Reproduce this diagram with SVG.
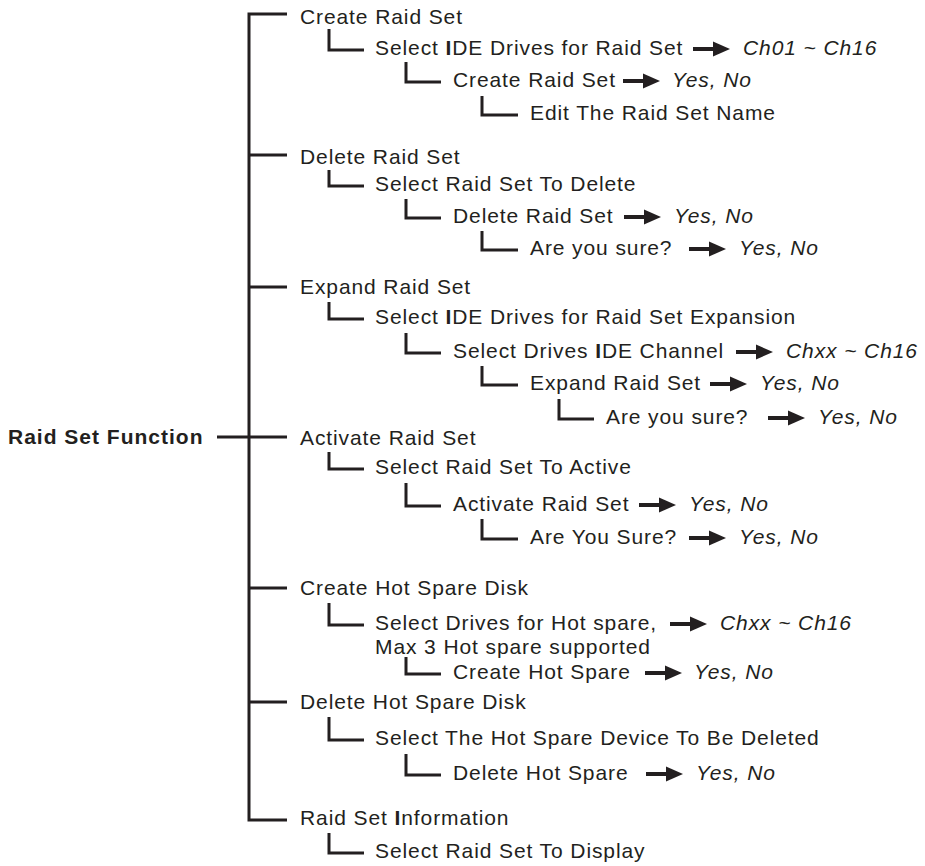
<svg xmlns="http://www.w3.org/2000/svg" width="925" height="866" viewBox="0 0 925 866">
<defs>
<style>
text{font-family:"Liberation Sans",Arial,Helvetica,sans-serif;font-size:21px;fill:#231f20;letter-spacing:0.9px}
.b{font-weight:bold;letter-spacing:1px}
.i{font-style:italic}
.bi{font-weight:bold}
.ln{fill:none;stroke:#231f20;stroke-width:3;stroke-linecap:butt;stroke-linejoin:miter}
.ar{fill:#231f20;stroke:none}
</style>
<g id="arr"><rect class="ar" x="0" y="-2" width="23" height="4"/><polygon class="ar" points="20,-7.5 37,0 20,7.5"/></g>
</defs>
<rect width="925" height="866" fill="#ffffff"/>
<g id="connectors">
<path class="ln" d="M287,14 H249 V820 H287"/>
<path class="ln" d="M217,437 H287"/>
<path class="ln" d="M249,155 H287 M249,287 H287 M249,588 H287 M249,702 H287"/>
<path class="ln" d="M329,29 V50 H364"/>
<path class="ln" d="M406,62 V82 H441"/>
<path class="ln" d="M482,96 V115 H518"/>
<path class="ln" d="M329,170 V186 H364"/>
<path class="ln" d="M406,199 V218 H441"/>
<path class="ln" d="M482,231 V250 H518"/>
<path class="ln" d="M329,302 V319 H364"/>
<path class="ln" d="M406,333 V353 H441"/>
<path class="ln" d="M482,366 V385 H518"/>
<path class="ln" d="M559,399 V419 H594"/>
<path class="ln" d="M329,452 V469 H364"/>
<path class="ln" d="M406,483 V506 H441"/>
<path class="ln" d="M482,519 V539 H518"/>
<path class="ln" d="M329,603 V625 H364"/>
<path class="ln" d="M406,657 V674 H441"/>
<path class="ln" d="M329,717 V740 H364"/>
<path class="ln" d="M406,754 V775 H441"/>
<path class="ln" d="M329,833 V853 H364"/>
<use href="#arr" x="693" y="49"/>
<use href="#arr" x="623" y="81"/>
<use href="#arr" x="624" y="217"/>
<use href="#arr" x="689" y="249"/>
<use href="#arr" x="736" y="352"/>
<use href="#arr" x="710" y="384"/>
<use href="#arr" x="768" y="418"/>
<use href="#arr" x="639" y="505"/>
<use href="#arr" x="689" y="538"/>
<use href="#arr" x="670" y="624"/>
<use href="#arr" x="645" y="673"/>
<use href="#arr" x="646" y="774"/>
</g>
<g id="root"><text class="b" x="8" y="444">Raid Set Function</text></g>
<g id="n-create-raid-set">
<text x="300" y="24">Create Raid Set</text>
<text x="375" y="55">Select <tspan class="bi">I</tspan>DE Drives for Raid Set</text><text class="i" x="743" y="55">Ch01 ~ Ch16</text>
<text x="453" y="87">Create Raid Set</text><text class="i" x="672" y="87">Yes, No</text>
<text x="530" y="120">Edit The Raid Set Name</text>
</g>
<g id="n-delete-raid-set">
<text x="300" y="164">Delete Raid Set</text>
<text x="375" y="191">Select Raid Set To Delete</text>
<text x="453" y="223">Delete Raid Set</text><text class="i" x="674" y="223">Yes, No</text>
<text x="530" y="255">Are you sure?</text><text class="i" x="739" y="255">Yes, No</text>
</g>
<g id="n-expand-raid-set">
<text x="300" y="294">Expand Raid Set</text>
<text x="375" y="324">Select <tspan class="bi">I</tspan>DE Drives for Raid Set Expansion</text>
<text x="453" y="358">Select Drives <tspan class="bi">I</tspan>DE Channel</text><text class="i" x="786" y="358">Chxx ~ Ch16</text>
<text x="530" y="390">Expand Raid Set</text><text class="i" x="760" y="390">Yes, No</text>
<text x="606" y="424">Are you sure?</text><text class="i" x="818" y="424">Yes, No</text>
</g>
<g id="n-activate-raid-set">
<text x="300" y="445">Activate Raid Set</text>
<text x="375" y="474">Select Raid Set To Active</text>
<text x="453" y="511">Activate Raid Set</text><text class="i" x="689" y="511">Yes, No</text>
<text x="530" y="544">Are You Sure?</text><text class="i" x="739" y="544">Yes, No</text>
</g>
<g id="n-create-hot-spare">
<text x="300" y="595">Create Hot Spare Disk</text>
<text x="375" y="630">Select Drives for Hot spare,</text>
<text x="375" y="654">Max 3 Hot spare supported</text><text class="i" x="720" y="630">Chxx ~ Ch16</text>
<text x="453" y="679">Create Hot Spare</text><text class="i" x="694" y="679">Yes, No</text>
</g>
<g id="n-delete-hot-spare">
<text x="300" y="709">Delete Hot Spare Disk</text>
<text x="375" y="745">Select The Hot Spare Device To Be Deleted</text>
<text x="453" y="780">Delete Hot Spare</text><text class="i" x="696" y="780">Yes, No</text>
</g>
<g id="n-raid-set-info">
<text x="300" y="825">Raid Set <tspan class="bi">I</tspan>nformation</text>
<text x="375" y="858">Select Raid Set To Display</text>
</g>
</svg>
